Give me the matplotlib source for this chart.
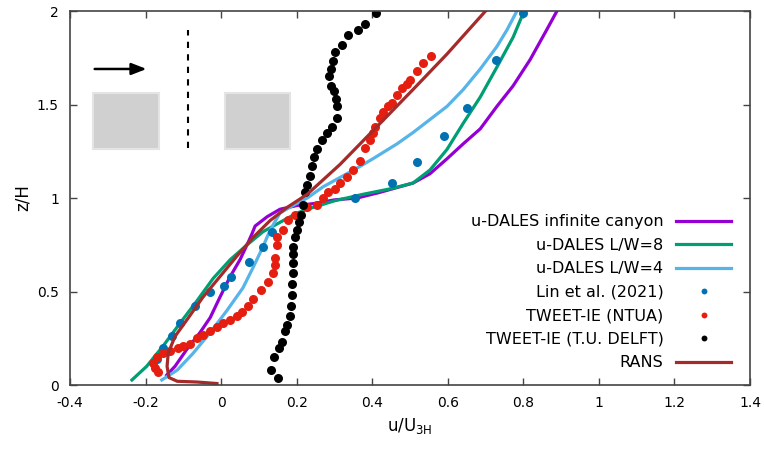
import numpy as np
import matplotlib
matplotlib.use("Agg")
import matplotlib.pyplot as plt
from matplotlib.patches import Rectangle

# u-DALES infinite canyon
inf_u = [-0.144, -0.122, -0.091, -0.056, -0.029, -0.003, 0.024, 0.05, 0.071, 0.082, 0.09,
         0.122, 0.156, 0.201, 0.244, 0.30, 0.36, 0.42, 0.508, 0.553, 0.598, 0.641,
         0.686, 0.73, 0.773, 0.818, 0.862, 0.889]
inf_z = [0.053, 0.10, 0.19, 0.28, 0.36, 0.47, 0.58, 0.67, 0.76, 0.81, 0.85,
         0.90, 0.94, 0.96, 0.97, 0.99, 1.00, 1.03, 1.08, 1.13, 1.21, 1.29,
         1.37, 1.49, 1.60, 1.74, 1.90, 2.0]

# u-DALES L/W=8
lw8_u = [-0.236, -0.197, -0.153, -0.109, -0.064, -0.021, 0.024, 0.069, 0.111, 0.156,
         0.201, 0.244, 0.30, 0.376, 0.45, 0.508, 0.553, 0.598, 0.641, 0.686, 0.73,
         0.773, 0.80]
lw8_z = [0.027, 0.10, 0.21, 0.33, 0.45, 0.57, 0.67, 0.75, 0.82, 0.87,
         0.92, 0.95, 0.985, 1.02, 1.05, 1.08, 1.15, 1.26, 1.40, 1.54, 1.70,
         1.86, 1.99]

# u-DALES L/W=4
lw4_u = [-0.157, -0.116, -0.074, -0.029, 0.016, 0.058, 0.085, 0.111, 0.13, 0.156, 0.19,
         0.228, 0.27, 0.315, 0.36, 0.402, 0.466, 0.508, 0.553, 0.598, 0.641, 0.686,
         0.73, 0.757, 0.783]
lw4_z = [0.027, 0.08, 0.17, 0.28, 0.40, 0.52, 0.63, 0.74, 0.83, 0.92, 0.96,
         1.00, 1.06, 1.11, 1.16, 1.21, 1.29, 1.35, 1.42, 1.49, 1.58, 1.69,
         1.81, 1.90, 2.0]

# Lin et al. (2021)
lin_u = [-0.17, -0.153, -0.13, -0.109, -0.069, -0.029, 0.008, 0.026, 0.074, 0.111, 0.135,
         0.355, 0.453, 0.519, 0.59, 0.651, 0.728, 0.80]
lin_z = [0.14, 0.20, 0.26, 0.33, 0.42, 0.50, 0.53, 0.58, 0.66, 0.74, 0.82,
         1.00, 1.08, 1.19, 1.33, 1.48, 1.74, 1.99]

# TWEET-IE (NTUA)
ntua_u = [-0.167, -0.175, -0.18, -0.17, -0.154, -0.135, -0.114, -0.10, -0.082, -0.064,
          -0.048, -0.029, -0.011, 0.005, 0.024, 0.042, 0.055, 0.072, 0.085, 0.105,
          0.125, 0.138, 0.143, 0.143, 0.149, 0.149, 0.164, 0.177, 0.196, 0.227,
          0.254, 0.27, 0.283, 0.302, 0.315, 0.333, 0.349, 0.368, 0.381, 0.394,
          0.402, 0.408, 0.421, 0.429, 0.442, 0.452, 0.466, 0.479, 0.492, 0.50,
          0.519, 0.535, 0.556]
ntua_z = [0.07, 0.09, 0.12, 0.15, 0.17, 0.18, 0.20, 0.21, 0.22, 0.25,
          0.27, 0.29, 0.31, 0.33, 0.35, 0.37, 0.39, 0.42, 0.46, 0.51,
          0.55, 0.60, 0.64, 0.68, 0.75, 0.79, 0.83, 0.88, 0.91, 0.95,
          0.96, 1.00, 1.03, 1.05, 1.08, 1.11, 1.15, 1.20, 1.27, 1.31,
          1.35, 1.38, 1.43, 1.46, 1.49, 1.51, 1.55, 1.59, 1.61, 1.63,
          1.68, 1.72, 1.76]

# TWEET-IE (T.U. DELFT)
delft_u = [0.150, 0.131, 0.140, 0.152, 0.162, 0.169, 0.174, 0.183, 0.185, 0.188,
           0.188, 0.19, 0.19, 0.19, 0.19, 0.196, 0.20, 0.205, 0.212, 0.217,
           0.222, 0.228, 0.236, 0.241, 0.246, 0.254, 0.267, 0.281, 0.294, 0.307,
           0.307, 0.304, 0.299, 0.291, 0.286, 0.291, 0.296, 0.302, 0.320, 0.336,
           0.363, 0.381, 0.409]
delft_z = [0.04, 0.08, 0.15, 0.20, 0.23, 0.29, 0.32, 0.37, 0.42, 0.48,
           0.54, 0.60, 0.65, 0.70, 0.74, 0.79, 0.83, 0.87, 0.91, 0.96,
           1.03, 1.07, 1.12, 1.17, 1.22, 1.26, 1.31, 1.35, 1.38, 1.43,
           1.49, 1.53, 1.57, 1.60, 1.65, 1.69, 1.73, 1.78, 1.82, 1.87,
           1.90, 1.93, 1.99]

# RANS
rans_u = [-0.011, -0.064, -0.116, -0.138, -0.143, -0.14, -0.122, -0.09, -0.048, -0.003,
          0.042, 0.085, 0.13, 0.175, 0.228, 0.315, 0.402, 0.508, 0.598, 0.70]
rans_z = [0.008, 0.016, 0.02, 0.04, 0.10, 0.17, 0.26, 0.35, 0.47, 0.58,
          0.69, 0.79, 0.88, 0.95, 1.02, 1.18, 1.36, 1.58, 1.77, 2.0]

fig = plt.figure(figsize=(7.64, 4.49), dpi=100)
ax = fig.add_axes([0.0916, 0.1425, 0.8901, 0.833])

lw = 2.3
ax.plot(inf_u, inf_z, color='#9400d3', lw=lw, label='u-DALES infinite canyon')
ax.plot(lw8_u, lw8_z, color='#009e73', lw=lw, label='u-DALES L/W=8')
ax.plot(lw4_u, lw4_z, color='#56b4e9', lw=lw, label='u-DALES L/W=4')
ax.plot(lin_u, lin_z, 'o', color='#0072b2', ms=6.5, mec='none', label='Lin et al. (2021)')
ax.plot(ntua_u, ntua_z, 'o', color='#e51e10', ms=6.5, mec='none', label='TWEET-IE (NTUA)')
ax.plot(delft_u, delft_z, 'o', color='black', ms=6.5, mec='none', label='TWEET-IE (T.U. DELFT)')
ax.plot(rans_u, rans_z, color='#a52a2a', lw=lw, label='RANS')

# inset sketch of the canyon
ax.add_patch(Rectangle((-0.339, 1.26), 0.175, 0.30, fc='#d0d0d0', ec='#e4e4e4', lw=1.5))
ax.add_patch(Rectangle((0.011, 1.26), 0.172, 0.30, fc='#d0d0d0', ec='#e4e4e4', lw=1.5))
ax.plot([-0.087, -0.087], [1.27, 1.90], color='black', lw=1.5, ls=(0, (3, 3)))
ax.annotate('', xy=(-0.19, 1.69), xytext=(-0.342, 1.69),
            arrowprops=dict(arrowstyle='-|>,head_length=0.9,head_width=0.35',
                            color='black', lw=1.8))

ax.set_xlim(-0.4, 1.4)
ax.set_ylim(0, 2)
ax.set_xticks(np.arange(-0.4, 1.41, 0.2))
ax.set_xticklabels(['-0.4', '-0.2', '0', '0.2', '0.4', '0.6', '0.8', '1', '1.2', '1.4'])
ax.set_yticks([0, 0.5, 1, 1.5, 2])
ax.set_yticklabels(['0', '0.5', '1', '1.5', '2'])
ax.tick_params(direction='in', length=5, width=1, top=True, right=True,
               labelsize=10, color='#444444', pad=8)
for s in ax.spines.values():
    s.set_color('#444444')
    s.set_linewidth(1.2)

ax.set_xlabel(r'u/U$_{\mathrm{3H}}$', fontsize=12)
ax.set_ylabel('z/H', fontsize=12)

ax.legend(loc='lower right', bbox_to_anchor=(0.988, 0.01), frameon=False,
          markerfirst=False, fontsize=11.5, handlelength=3.4, labelspacing=0.53,
          handletextpad=0.8, borderpad=0.2, markerscale=0.65)

fig.savefig('out.png', dpi=100)
